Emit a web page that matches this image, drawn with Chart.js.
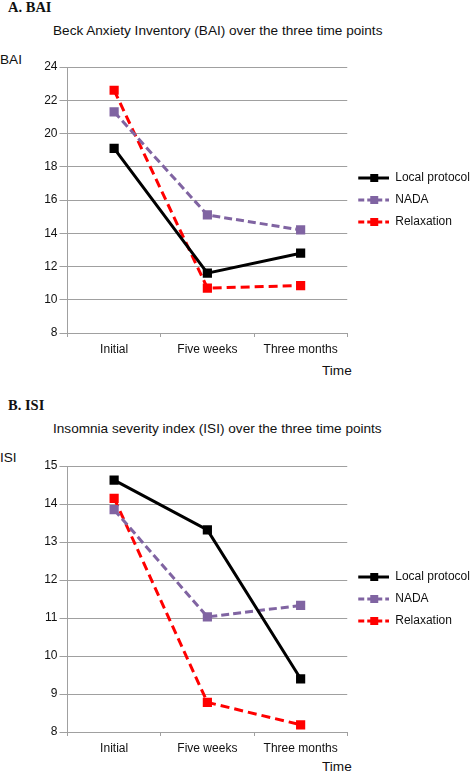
<!DOCTYPE html>
<html>
<head>
<meta charset="utf-8">
<script src="https://cdn.jsdelivr.net/npm/chart.js@4/dist/chart.umd.min.js"></script>
<style>
  html, body { margin: 0; padding: 0; background: #fff; }
  body { width: 471px; height: 773px; position: relative; overflow: hidden; font-family: "Liberation Sans", Arial, sans-serif; color: #111; }
  .abs { position: absolute; white-space: nowrap; }
  .panel { font-family: "Liberation Serif", "Times New Roman", serif; font-weight: bold; font-size: 14.5px; line-height: 16px; left: 8px; }
  .txt { font-size: 13.6px; line-height: 16px; }
  canvas { position: absolute; left: 0; }
</style>
</head>
<body>
<div class="abs panel" style="top:-1px">A. BAI</div>
<div class="abs txt" style="top:23px; left:53px">Beck Anxiety Inventory (BAI) over the three time points</div>
<div class="abs txt" style="top:52px; left:0px">BAI</div>
<canvas id="bai" width="490" height="310" style="top:50px"></canvas>
<div class="abs txt" style="top:363px; left:322px">Time</div>

<div class="abs panel" style="top:397px">B. ISI</div>
<div class="abs txt" style="top:421px; left:53px">Insomnia severity index (ISI) over the three time points</div>
<div class="abs txt" style="top:450px; left:0px">ISI</div>
<canvas id="isi" width="490" height="310" style="top:449px"></canvas>
<div class="abs txt" style="top:759px; left:322px">Time</div>

<script>
const timePoints = ['Initial', 'Five weeks', 'Three months'];
const seriesNames = ['Local protocol', 'NADA', 'Relaxation'];

const baiLocal = [19.1, 11.6, 12.8];
const baiNada = [21.3, 15.1, 14.2];
const baiRelax = [22.6, 10.7, 10.85];

const isiLocal = [14.63, 13.32, 9.4];
const isiNada = [13.85, 11.03, 11.33];
const isiRelax = [14.15, 8.78, 8.19];

const colors = ['#000000', '#8064a2', '#ff0000'];
const dashes = [[], [8, 4], [9, 5]];
const gridColor = '#a0a0a0';

// little line + square sample for the legend
function legendMark(color, dash) {
    const c = document.createElement('canvas');
    c.width = 32;
    c.height = 12;
    const ctx = c.getContext('2d');
    ctx.strokeStyle = color;
    ctx.lineWidth = 3;
    ctx.setLineDash(dash.length ? [6, 3] : []);
    ctx.beginPath();
    ctx.moveTo(1, 6);
    ctx.lineTo(32, 6);
    ctx.stroke();
    ctx.fillStyle = color;
    ctx.fillRect(13, 2, 8, 8);
    return c;
}
const marks = colors.map((c, i) => legendMark(c, dashes[i]));

// the legend box is clipped to its own width; let the text run to the canvas edge
const widenLegend = {
    id: 'widenLegend',
    afterLayout(chart) {
        chart.legend.right = chart.width;
        chart.legend.width = chart.legend.right - chart.legend.left;
    }
};

function makeChart(id, values, min, max, step) {
    const datasets = values.map((data, i) => ({
        label: seriesNames[i],
        data: data,
        borderColor: colors[i],
        backgroundColor: colors[i],
        borderWidth: 3,
        borderDash: dashes[i],
        pointStyle: 'rect',
        pointRadius: 6.5,
        pointBorderWidth: 0,
        pointBackgroundColor: colors[i],
        tension: 0
    }));

    return new Chart(document.getElementById(id), {
        type: 'line',
        data: { labels: timePoints, datasets: datasets },
        plugins: [widenLegend],
        options: {
            responsive: false,
            animation: false,
            devicePixelRatio: 1,
            layout: { padding: { top: 17, left: 0, right: 27, bottom: 0 } },
            plugins: {
                tooltip: { enabled: false },
                legend: {
                    position: 'right',
                    align: 'center',
                    fullSize: false,
                    labels: {
                        usePointStyle: true,
                        pointStyleWidth: 32,
                        padding: 10,
                        color: '#111',
                        font: { family: 'Liberation Sans', size: 12 },
                        generateLabels: (chart) => chart.data.datasets.map((ds, i) => ({
                            text: ds.label,
                            pointStyle: marks[i],
                            fillStyle: colors[i],
                            strokeStyle: colors[i],
                            lineWidth: 0,
                            fontColor: '#111',
                            datasetIndex: i,
                            hidden: false
                        }))
                    }
                }
            },
            scales: {
                x: {
                    type: 'category',
                    offset: true,
                    grid: { offset: true, drawOnChartArea: false, tickLength: 4, color: gridColor },
                    border: { color: gridColor },
                    ticks: { color: '#111', padding: 5, font: { family: 'Liberation Sans', size: 12 } },
                    afterFit: (scale) => { scale.height = 27; }
                },
                y: {
                    min: min,
                    max: max,
                    grid: { color: gridColor, tickLength: 8 },
                    border: { color: gridColor },
                    ticks: { stepSize: step, color: '#111', padding: 2, font: { family: 'Liberation Sans', size: 12 } },
                    afterFit: (scale) => { scale.width = 67.5; }
                }
            }
        }
    });
}

makeChart('bai', [baiLocal, baiNada, baiRelax], 8, 24, 2);
makeChart('isi', [isiLocal, isiNada, isiRelax], 8, 15, 1);
</script>
</body>
</html>
